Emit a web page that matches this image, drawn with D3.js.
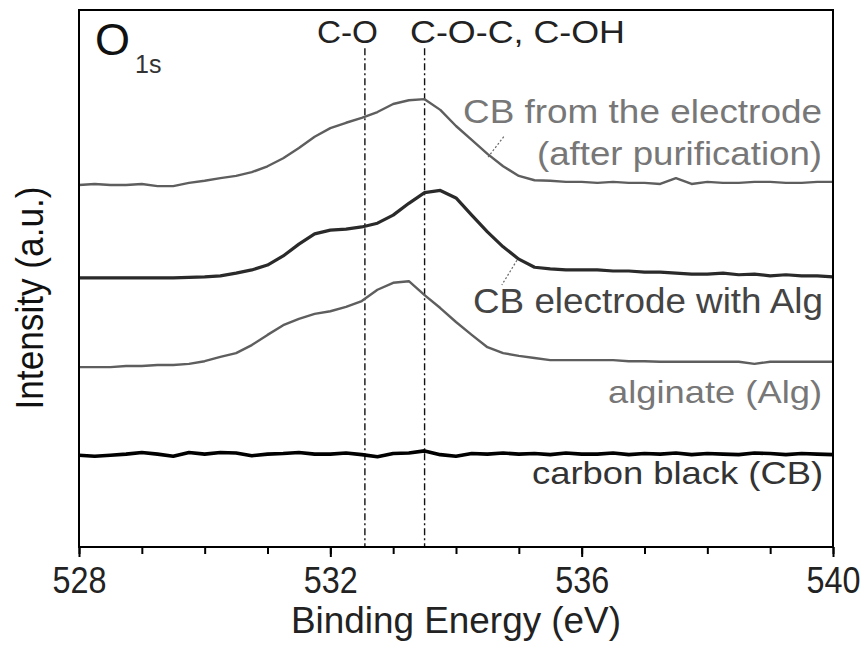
<!DOCTYPE html>
<html>
<head>
<meta charset="utf-8">
<script src="https://cdn.jsdelivr.net/npm/d3@7/dist/d3.min.js"></script>
<style>
  html, body { margin: 0; padding: 0; background: #fff; }
  svg { display: block; }
  text { font-family: "Liberation Sans", Arial, sans-serif; }
</style>
</head>
<body>
<svg id="chart" width="866" height="654"></svg>
<script>
// ---- Data (binding energy grid in eV, intensities in a.u.) ----
const energy = d3.range(0, 49).map(i => 528 + i * 0.25);

const cbPurified = [67.4, 67.6, 67.4, 67.4, 67.6, 67.2, 67.2, 67.8, 68.2, 68.7, 69.1, 69.8,
  70.9, 72.4, 74.3, 76.4, 78.0, 79.0, 79.9, 81.0, 82.5, 83.2, 83.4, 81.4,
  78.4, 75.8, 73.2, 70.9, 69.1, 68.3, 68.2, 68.0, 68.0, 67.8, 68.0, 67.8,
  67.8, 67.6, 68.7, 67.6, 68.0, 67.8, 67.8, 68.0, 68.0, 67.8, 67.8, 68.0, 68.0];

const cbElectrodeAlg = [50.1, 50.1, 50.1, 50.1, 50.1, 50.1, 50.1, 50.2, 50.3, 50.5, 51.0, 51.6,
  52.5, 54.2, 56.4, 58.3, 59.0, 59.2, 59.6, 60.3, 61.8, 64.0, 66.0, 66.4,
  65.0, 61.8, 58.7, 55.9, 53.6, 52.1, 51.8, 51.6, 51.6, 51.6, 51.4, 51.4,
  51.2, 51.2, 51.0, 50.8, 50.8, 51.0, 50.7, 50.8, 50.5, 50.7, 50.5, 50.5, 50.3];

const alginate = [33.5, 33.5, 33.5, 33.7, 33.7, 33.9, 33.9, 34.1, 34.6, 35.4, 36.1, 37.6,
  39.5, 41.3, 42.5, 43.4, 43.9, 44.7, 45.8, 47.9, 49.2, 49.5, 46.9, 44.5,
  41.9, 39.5, 37.2, 36.1, 35.6, 35.2, 34.8, 34.8, 34.8, 34.8, 34.8, 34.6,
  34.6, 34.5, 34.5, 34.5, 34.5, 34.5, 34.5, 34.1, 34.5, 34.5, 34.5, 34.5, 34.5];

const carbonBlack = [17.1, 16.9, 17.1, 17.3, 17.6, 17.3, 16.9, 17.6, 17.3, 17.6, 17.5, 17.0,
  17.3, 17.4, 17.6, 17.3, 17.3, 17.5, 17.2, 16.8, 17.4, 17.5, 17.9, 17.2,
  16.9, 17.4, 17.3, 17.5, 17.3, 17.4, 17.2, 17.5, 17.3, 17.3, 17.5, 17.2,
  17.4, 17.3, 17.5, 17.2, 17.4, 17.3, 17.2, 17.5, 17.4, 17.2, 17.4, 17.3, 17.2];

const xTicksMajor = [528, 532, 536, 540];
const xTicksMinor = d3.range(528, 541, 1);
const refLines = [532.55, 533.5];
const refLabels = ["C-O", "C-O-C, C-OH"];

// ---- Layout ----
const svg = d3.select("#chart");
const M = { left: 79, right: 833, top: 10, bottom: 547 };
const x = d3.scaleLinear().domain([528, 540]).range([M.left, M.right]);
const y = d3.scaleLinear().domain([0, 100]).range([M.bottom, M.top]);

// Series
const series = [
  { name: "CB from the electrode", values: cbPurified, color: "#5e5e5e", width: 2.4 },
  { name: "CB electrode with Alg", values: cbElectrodeAlg, color: "#2a2a2a", width: 3.2 },
  { name: "alginate (Alg)", values: alginate, color: "#5e5e5e", width: 2.4 },
  { name: "carbon black (CB)", values: carbonBlack, color: "#000", width: 3.6 }
];

const line = d3.line().x(d => x(d[0])).y(d => y(d[1]));

// Reference lines (dash-dot)
svg.append("g").selectAll("line").data(refLines).join("line")
  .attr("x1", d => x(d)).attr("x2", d => x(d))
  .attr("y1", y(92.9)).attr("y2", y(0))
  .attr("stroke", "#111").attr("stroke-width", 1.4)
  .attr("stroke-dasharray", "7,3,2,3");

svg.append("g").selectAll("path").data(series).join("path")
  .attr("d", s => line(energy.map((e, i) => [e, s.values[i]])))
  .attr("fill", "none")
  .attr("stroke", s => s.color)
  .attr("stroke-width", s => s.width)
  .attr("stroke-linejoin", "round");

// Frame
svg.append("rect")
  .attr("x", M.left).attr("y", M.top)
  .attr("width", M.right - M.left).attr("height", M.bottom - M.top)
  .attr("fill", "none").attr("stroke", "#000").attr("stroke-width", 2);

// X axis ticks (outward)
const xAxisMinor = d3.axisBottom(x).tickValues(xTicksMinor).tickSize(7).tickFormat("");
const gMinor = svg.append("g").attr("transform", `translate(0,${M.bottom})`).call(xAxisMinor);
gMinor.select(".domain").remove();
gMinor.selectAll("line").attr("stroke", "#000").attr("stroke-width", 2);

const xAxisMajor = d3.axisBottom(x).tickValues(xTicksMajor).tickSize(10).tickPadding(8).tickFormat(d3.format("d"));
const gMajor = svg.append("g").attr("transform", `translate(0,${M.bottom})`).call(xAxisMajor);
gMajor.select(".domain").remove();
gMajor.selectAll("line").attr("stroke", "#000").attr("stroke-width", 2);
gMajor.selectAll("text")
  .attr("font-family", "Liberation Sans, Arial, sans-serif")
  .attr("font-size", 36).attr("fill", "#222")
  .attr("dy", null).attr("y", 46)
  .attr("textLength", 54).attr("lengthAdjust", "spacingAndGlyphs");

// Axis titles
svg.append("text").attr("x", 456).attr("y", 633).attr("text-anchor", "middle")
  .attr("font-size", 37).attr("fill", "#222")
  .attr("textLength", 330).attr("lengthAdjust", "spacingAndGlyphs")
  .text("Binding Energy (eV)");

svg.append("text").attr("transform", "translate(43,298) rotate(-90)")
  .attr("text-anchor", "middle").attr("font-size", 38).attr("fill", "#111")
  .attr("textLength", 223).attr("lengthAdjust", "spacingAndGlyphs")
  .text("Intensity (a.u.)");

// O1s
svg.append("text").attr("x", 95).attr("y", 55).attr("font-size", 45).attr("fill", "#111").text("O");
svg.append("text").attr("x", 135).attr("y", 73).attr("font-size", 25).attr("fill", "#333").text("1s");

// Reference labels
svg.append("text").attr("x", 378).attr("y", 43).attr("text-anchor", "end")
  .attr("font-size", 32).attr("fill", "#222")
  .attr("textLength", 61).attr("lengthAdjust", "spacingAndGlyphs").text(refLabels[0]);
svg.append("text").attr("x", 410).attr("y", 43).attr("text-anchor", "start")
  .attr("font-size", 32).attr("fill", "#222")
  .attr("textLength", 215).attr("lengthAdjust", "spacingAndGlyphs").text(refLabels[1]);

// Series labels
const labels = [
  { t: "CB from the electrode", xr: 822, yb: 123, w: 359, fs: 33, c: "#777" },
  { t: "(after purification)", xr: 822, yb: 165, w: 285, fs: 33, c: "#777" },
  { t: "CB electrode with Alg", xr: 823, yb: 313, w: 350, fs: 35, c: "#444" },
  { t: "alginate (Alg)", xr: 822, yb: 403, w: 214, fs: 32, c: "#777" },
  { t: "carbon black (CB)", xr: 823, yb: 484, w: 291, fs: 32, c: "#333" }
];
svg.append("g").selectAll("text").data(labels).join("text")
  .attr("x", d => d.xr - d.w).attr("y", d => d.yb)
  .attr("font-size", d => d.fs).attr("fill", d => d.c)
  .attr("textLength", d => d.w).attr("lengthAdjust", "spacingAndGlyphs")
  .text(d => d.t);

// Leader lines (energy, intensity)
const leaders = [
  [[534.76, 76.4], [534.51, 72.6]],
  [[534.97, 53.4], [534.73, 48.8]]
];
svg.append("g").selectAll("line").data(leaders).join("line")
  .attr("x1", d => x(d[0][0])).attr("y1", d => y(d[0][1]))
  .attr("x2", d => x(d[1][0])).attr("y2", d => y(d[1][1]))
  .attr("stroke", "#666").attr("stroke-width", 1.2).attr("stroke-dasharray", "2,2");
</script>
</body>
</html>
